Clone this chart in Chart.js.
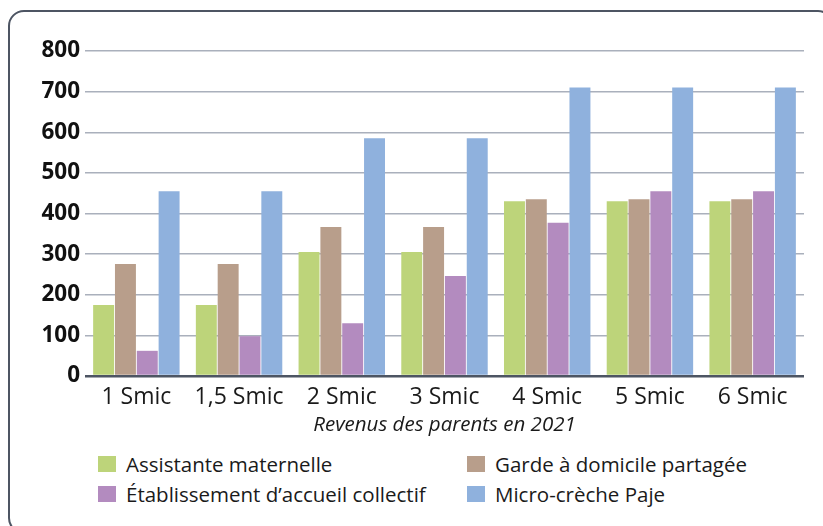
<!DOCTYPE html>
<html>
<head>
<meta charset="utf-8">
<script src="https://cdn.jsdelivr.net/npm/chart.js@4"></script>
<style>
  html, body { margin: 0; padding: 0; background: #fff; }
  body { width: 823px; height: 526px; position: relative; overflow: hidden; font-family: "Open Sans", sans-serif; }
  #cadre { position: absolute; left: 8px; top: 10px; width: 822px; height: 520px; border: 2px solid #4d5563; border-radius: 16px; }
  #zone { position: absolute; left: 0; top: 0; width: 823px; height: 440px; }
  #legende { position: absolute; left: 98px; top: 451px; display: grid; grid-template-columns: 369px 320px; row-gap: 4px; font-size: 20.5px; color: #1a1a1a; }
  .item { display: flex; align-items: center; height: 26px; white-space: nowrap; }
  .carre { width: 18px; height: 16px; margin-right: 10px; flex: none; }
</style>
</head>
<body>
<div id="cadre"></div>
<div id="zone"><canvas id="graphique"></canvas></div>
<div id="legende"></div>
<script>
// Coût mensuel pour les parents, par mode de garde
const revenus = ["1 Smic", "1,5 Smic", "2 Smic", "3 Smic", "4 Smic", "5 Smic", "6 Smic"];
const assistanteMaternelle = [175, 175, 305, 305, 430, 430, 430];
const gardeDomicile = [276, 276, 367, 367, 435, 435, 435];
const etablissementCollectif = [62, 98, 130, 246, 377, 455, 455];
const microCreche = [455, 455, 585, 585, 710, 710, 710];
const graduations = [0, 100, 200, 300, 400, 500, 600, 700, 800];

const series = [
    { label: "Assistante maternelle", data: assistanteMaternelle, couleur: "#bdd47a" },
    { label: "Garde à domicile partagée", data: gardeDomicile, couleur: "#b89e8b" },
    { label: "Établissement d’accueil collectif", data: etablissementCollectif, couleur: "#b38bbf" },
    { label: "Micro-crèche Paje", data: microCreche, couleur: "#8fb1dd" }
];

const police = "'Open Sans', sans-serif";

new Chart(document.getElementById("graphique"), {
    type: "bar",
    data: {
        labels: revenus,
        datasets: series.map(s => ({
            label: s.label,
            data: s.data,
            backgroundColor: s.couleur,
            barPercentage: 0.96,
            categoryPercentage: 0.85
        }))
    },
    options: {
        responsive: true,
        maintainAspectRatio: false,
        animation: false,
        layout: { padding: { top: 51, right: 19, left: 0, bottom: 0 } },
        plugins: {
            legend: { display: false },
            tooltip: { enabled: false }
        },
        scales: {
            x: {
                grid: { display: false },
                border: { display: false },
                ticks: { color: "#1a1a1a", padding: 0, font: { family: police, size: 23 } },
                title: {
                    display: true,
                    text: "Revenus des parents en 2021",
                    color: "#1a1a1a",
                    padding: { top: 0, bottom: 3 },
                    font: { family: police, size: 20.5, style: "italic" }
                },
                afterFit: scale => { scale.height = 64; }
            },
            y: {
                min: 0,
                max: 800,
                afterBuildTicks: scale => { scale.ticks = graduations.map(v => ({ value: v })); },
                border: { display: false },
                grid: {
                    drawTicks: false,
                    color: ctx => ctx.tick.value === 0 ? "#4d5563" : "#aab0bc",
                    lineWidth: ctx => ctx.tick.value === 0 ? 2.5 : 1.5
                },
                ticks: { color: "#111", padding: 5, font: { family: police, size: 22.5, weight: "bold" } },
                afterFit: scale => { scale.width = 85; }
            }
        }
    }
});

// légende sur deux colonnes
const legende = document.getElementById("legende");
series.forEach(s => {
    const item = document.createElement("div");
    item.className = "item";
    item.innerHTML = `<span class="carre" style="background:${s.couleur}"></span><span>${s.label}</span>`;
    legende.appendChild(item);
});
</script>
</body>
</html>
